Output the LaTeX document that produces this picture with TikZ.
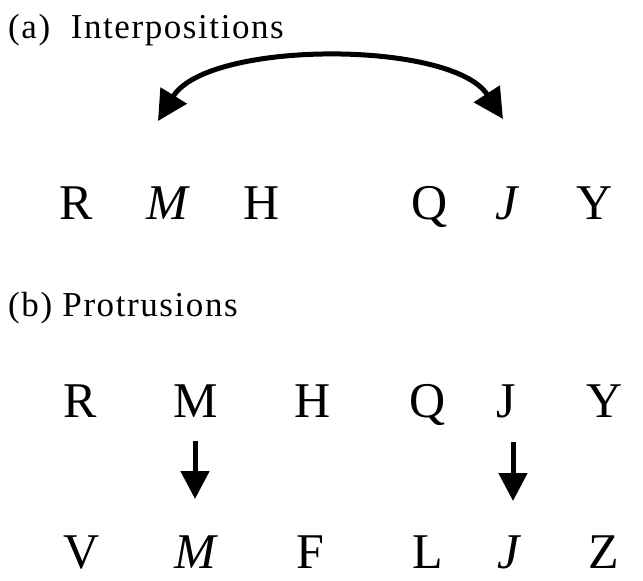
\documentclass[tikz,border=0pt]{standalone}
\usepackage{fontspec}
\setmainfont{Liberation Serif}
\newfontfamily\titlefont[LetterSpace=4.5]{Liberation Serif}
\usetikzlibrary{arrows.meta}
\begin{document}
\begin{tikzpicture}[x=1pt,y=-1pt,
  letter/.style={anchor=base,inner sep=0pt,font=\fontsize{50}{50}\selectfont},
  title/.style={anchor=base west,inner sep=0pt,font=\titlefont\fontsize{35}{35}\selectfont},
  curvearrow/.style={line width=5pt,{Triangle[length=30pt,width=30pt]}-{Triangle[length=30pt,width=30pt]}},
  bigarrow/.style={line width=5pt,-{Triangle[length=28pt,width=28pt]}}]
\useasboundingbox (0,0) rectangle (643,581);
\node[title] (ta) at (8,38) {(a)\ \ Interpositions};
\node[letter] (a1) at (76,219) {R};
\node[letter] (a2) at (168,219) {\textit{M}};
\node[letter] (a3) at (262,219) {H};
\node[letter] (a4) at (430,219) {Q};
\node[letter] (a5) at (508,219) {\textit{J}};
\node[letter] (a6) at (595,219) {Y};
\coordinate (cl) at (158,121);
\coordinate (cr) at (503,119);
\draw[curvearrow] (cl) .. controls (208,40) and (452,40) .. (cr);
\node[title] (tb) at (8,316) {(b) Protrusions};
\node[letter] (b1) at (80,417) {R};
\node[letter] (b2) at (196,417) {M};
\node[letter] (b3) at (313,417) {H};
\node[letter] (b4) at (428,417) {Q};
\node[letter] (b5) at (506,417) {J};
\node[letter] (b6) at (605,417) {Y};
\coordinate (d1s) at (195,441);
\coordinate (d1e) at (195,499);
\coordinate (d2s) at (513,442);
\coordinate (d2e) at (513,501);
\draw[bigarrow] (d1s) -- (d1e);
\draw[bigarrow] (d2s) -- (d2e);
\node[letter] (c1) at (82,568) {V};
\node[letter] (c2) at (196,568) {\textit{M}};
\node[letter] (c3) at (310,568) {F};
\node[letter] (c4) at (428,568) {L};
\node[letter] (c5) at (510,568) {\textit{J}};
\node[letter] (c6) at (604,568) {Z};
\end{tikzpicture}
\end{document}
